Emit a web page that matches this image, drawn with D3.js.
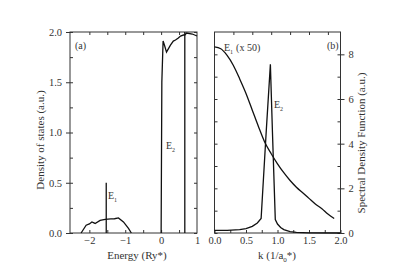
<!DOCTYPE html>
<meta charset="utf-8">
<head>
<style>
body { margin: 0; background: #fff; }
text { font-family: "Liberation Serif", "DejaVu Serif", serif; fill: #333; }
.tick text { font-size: 10.5px; }
.domain { stroke: #333; }
.tick line { stroke: #333; }
.curve { fill: none; stroke: #111; stroke-width: 1.3px; }
</style>
</head>
<body>
<script src="https://d3js.org/d3.v7.min.js"></script>
<script>

// panel (a): density of states
var dosE1 = [[-2.23,0],[-2.09,0.077],[-2.0,0.09],[-1.93,0.11],[-1.84,0.095],[-1.7,0.126],
             [-1.56,0.136],[-1.4,0.14],[-1.3,0.142],[-1.19,0.15],[-1.05,0.11],[-0.91,0.045],[-0.83,0]];
var dosE2 = [[0.0,0],[0.02,1.5],[0.035,1.68],[0.055,1.91],[0.1,1.86],[0.15,1.8],[0.26,1.87],
             [0.34,1.91],[0.4,1.92],[0.48,1.94],[0.54,1.96],[0.62,1.97],[0.66,1.97],
             [0.71,1.99],[0.87,1.98],[1.0,1.96]];
var markE1 = {x: -1.53, top: 0.5};
var markE2 = {x: 0.66, top: 2.0};

// panel (b): spectral density function
var sdfK = [0,0.1,0.2,0.3,0.4,0.5,0.6,0.7,0.8,0.9,1.0,1.1,1.2,1.3,1.4,1.5,1.6,1.7,1.8,1.9];
var sdfE1 = [8.33,8.25,7.95,7.5,6.9,6.25,5.5,4.75,4.05,3.55,3.1,2.7,2.35,2.05,1.8,1.55,1.3,1.1,0.85,0.65];
var sdfE2 = [[0,0.12],[0.2,0.12],[0.4,0.15],[0.5,0.2],[0.6,0.3],[0.68,0.45],[0.74,0.65],
             [0.82,4.5],[0.887,7.55],[0.92,4.5],[0.965,0.6],[1.0,0.4],[1.05,0.25],[1.1,0.15],
             [1.2,0.06],[1.3,0.03],[1.5,0.01],[2.0,0.0]];

var dosTicksY = [0, 0.5, 1.0, 1.5, 2.0];
var dosTicksX = [-2, -1, 0, 1];
var sdfTicksY = [0, 2, 4, 6, 8];
var sdfTicksX = [0, 0.5, 1.0, 1.5, 2.0];

var svg = d3.select("body").append("svg")
    .attr("width", 393).attr("height", 278);

var plotTop = 32, plotBottom = 233;

// ---- panel (a)
var xa = d3.scaleLinear().domain([-2.54, 1]).range([70, 197]);
var ya = d3.scaleLinear().domain([0, 2]).range([plotBottom, plotTop]);

// ---- panel (b)
var xb = d3.scaleLinear().domain([0, 2]).range([214.5, 340.5]);
var yb = d3.scaleLinear().domain([0, 9]).range([plotBottom, plotTop]);

function frame(x) {
  svg.append("rect")
    .attr("x", x.range()[0]).attr("y", plotTop)
    .attr("width", x.range()[1] - x.range()[0]).attr("height", plotBottom - plotTop)
    .attr("fill", "none").attr("stroke", "#333");
}
frame(xa);
frame(xb);

function axis(gen, tr, vals, size, labels) {
  var g = svg.append("g").attr("transform", tr)
    .call(gen.tickValues(vals).tickSize(size).tickPadding(labels ? 4 : 0)
      .tickFormat(labels ? labels : ""));
  g.select(".domain").remove();
  return g;
}
var r = function(a, b, s) { return d3.range(a, b + s / 2, s); };
var f1 = d3.format(".1f");

// panel (a) axes
axis(d3.axisLeft(ya), "translate(70,0)", dosTicksY, 4, f1);
axis(d3.axisRight(ya), "translate(70,0)", r(0, 2, 0.25), 3, null);
axis(d3.axisLeft(ya), "translate(197,0)", r(0, 2, 0.25), 3, null);
axis(d3.axisBottom(xa), "translate(0," + plotBottom + ")", dosTicksX, 0, d3.format("d"));
axis(d3.axisTop(xa), "translate(0," + plotBottom + ")", r(-2, 0.5, 0.5), 3, null);
axis(d3.axisBottom(xa), "translate(0," + plotTop + ")", r(-2, 0.5, 0.5), 3, null);

// panel (b) axes
axis(d3.axisRight(yb), "translate(340.5,0)", sdfTicksY, 4, d3.format("d"));
axis(d3.axisLeft(yb), "translate(340.5,0)", r(0, 8, 1), 3, null);
axis(d3.axisRight(yb), "translate(214.5,0)", r(0, 8, 1), 3, null);
axis(d3.axisBottom(xb), "translate(0," + plotBottom + ")", sdfTicksX, 0, f1);
axis(d3.axisTop(xb), "translate(0," + plotBottom + ")", r(0, 2, 0.25), 3, null);
axis(d3.axisBottom(xb), "translate(0," + plotTop + ")", r(0.3, 1.8, 0.3), 3, null);

// curves
var la = d3.line().x(function(d) { return xa(d[0]); }).y(function(d) { return ya(d[1]); });
var lb = d3.line().x(function(d) { return xb(d[0]); }).y(function(d) { return yb(d[1]); });

svg.append("path").attr("class", "curve").attr("d", la(dosE1));
svg.append("path").attr("class", "curve").attr("d", la(dosE2));
[markE1, markE2].forEach(function(m) {
  svg.append("line").attr("class", "curve")
    .attr("x1", xa(m.x)).attr("x2", xa(m.x))
    .attr("y1", ya(0)).attr("y2", ya(m.top));
});

svg.append("path").attr("class", "curve")
  .attr("d", lb.curve(d3.curveMonotoneX)(sdfK.map(function(k, i) { return [k, sdfE1[i]]; })));
svg.append("path").attr("class", "curve").attr("d", lb.curve(d3.curveLinear)(sdfE2));

// labels with subscripts
function sub(x, y, main, s, rest) {
  var t = svg.append("text").attr("x", x).attr("y", y).style("font-size", "10px");
  t.append("tspan").text(main);
  t.append("tspan").attr("dy", 3).style("font-size", "6px").text(s);
  if (rest) t.append("tspan").attr("dy", -3).attr("dx", 3).text(rest);
  return t;
}
sub(108, 199, "E", "1");
sub(166, 149, "E", "2");
sub(224, 51, "E", "1", "(x 50)");
sub(274, 108, "E", "2");

svg.append("text").attr("x", 75).attr("y", 49).style("font-size", "10px").text("(a)");
svg.append("text").attr("x", 327).attr("y", 49).style("font-size", "10px").text("(b)");

// axis titles
svg.append("text").attr("x", 137).attr("y", 259).attr("text-anchor", "middle")
  .style("font-size", "11px").text("Energy (Ry*)");
var kt = svg.append("text").attr("x", 277).attr("y", 259).attr("text-anchor", "middle")
  .style("font-size", "11px");
kt.append("tspan").text("k (1/a");
kt.append("tspan").attr("dy", 3).style("font-size", "7px").text("0");
kt.append("tspan").attr("dy", -3).text("*)");

svg.append("text").attr("transform", "translate(44,140) rotate(-90)")
  .attr("text-anchor", "middle").style("font-size", "11px")
  .text("Density of states (a.u.)");
svg.append("text").attr("transform", "translate(365,143) rotate(-90)")
  .attr("text-anchor", "middle").style("font-size", "11px")
  .text("Spectral Density Function (a.u.)");

</script>
</body>
